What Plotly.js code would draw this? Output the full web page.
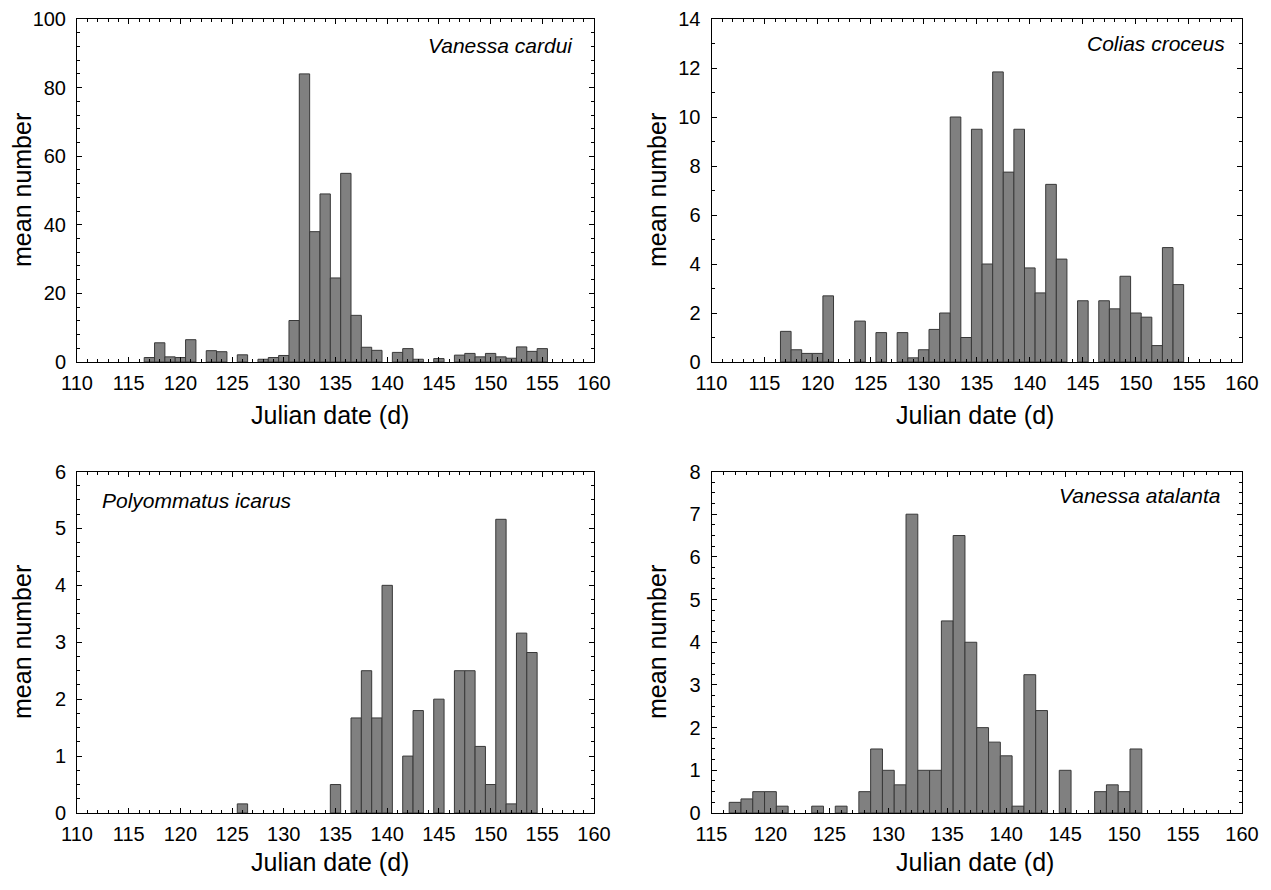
<!DOCTYPE html>
<html>
<head>
<meta charset="utf-8">
<script src="https://cdn.plot.ly/plotly-3.0.1.min.js"></script>
<style>html,body{margin:0;padding:0;background:#fff;}#chart{width:1271px;height:890px;}</style>
</head>
<body>
<div id="chart"></div>
<script>
// Vanessa cardui
const days1 = [117,118,119,120,121,123,124,126,128,129,130,131,132,133,134,135,136,137,138,139,141,142,143,145,147,148,149,150,151,152,153,154,155];
const vals1 = [1.3,5.6,1.5,1.3,6.5,3.3,3.0,2.1,0.8,1.3,1.9,12.1,84,38,49,24.5,55,13.6,4.3,3.4,2.8,3.9,0.8,1.0,2.0,2.5,1.5,2.5,1.5,1.1,4.4,3.1,3.9];
// Colias croceus
const days2 = [117,118,119,120,121,124,126,128,129,130,131,132,133,134,135,136,137,138,139,140,141,142,143,145,147,148,149,150,151,152,153,154];
const vals2 = [1.25,0.5,0.35,0.35,2.7,1.67,1.2,1.2,0.17,0.5,1.33,2.0,10.0,1.0,9.5,4.0,11.84,7.75,9.5,3.84,2.82,7.25,4.2,2.5,2.5,2.17,3.5,2.0,1.83,0.67,4.67,3.16];
// Polyommatus icarus
const days3 = [126,135,137,138,139,140,142,143,145,147,148,149,150,151,152,153,154];
const vals3 = [0.16,0.5,1.67,2.5,1.67,4.0,1.0,1.8,2.0,2.5,2.5,1.17,0.5,5.16,0.16,3.16,2.82];
// Vanessa atalanta
const days4 = [117,118,119,120,121,124,126,128,129,130,131,132,133,134,135,136,137,138,139,140,141,142,143,145,148,149,150,151];
const vals4 = [0.25,0.33,0.5,0.5,0.16,0.16,0.16,0.5,1.5,1.0,0.66,7.0,1.0,1.0,4.5,6.5,4.0,2.0,1.66,1.34,0.16,3.24,2.4,1.0,0.5,0.66,0.5,1.5];

const species = ["Vanessa cardui","Colias croceus","Polyommatus icarus","Vanessa atalanta"];
const xRanges = [[110,160],[110,160],[110,160],[115,160]];
const yRanges = [[0,100],[0,14],[0,6],[0,8]];
const yMajor = [20,2,1,1];
const yMinor = [4,1,0.25,0.25];
const xTitle = "Julian date (d)";
const yTitle = "mean number";

const W = 1271, H = 890;
const px = v => v / W, py = v => 1 - v / H;
const xDom = [[px(77), px(594)], [px(711.5), px(1242)], [px(77), px(594)], [px(711.5), px(1242)]];
const yDom = [[py(362), py(19)], [py(362), py(19)], [py(813), py(471.5)], [py(813), py(471.5)]];

const FONT = "Liberation Sans, Arial, sans-serif";
const allDays = [days1, days2, days3, days4];
const allVals = [vals1, vals2, vals3, vals4];

const traces = allDays.map((d, i) => ({
  type: 'bar', x: d, y: allVals[i], width: 1,
  xaxis: 'x' + (i ? i + 1 : ''), yaxis: 'y' + (i ? i + 1 : ''),
  marker: {color: '#808080', line: {color: '#383838', width: 1}},
  showlegend: false, hoverinfo: 'x+y'
}));

const layout = {
  width: W, height: H,
  margin: {l: 0, r: 0, t: 0, b: 0},
  paper_bgcolor: '#fff', plot_bgcolor: '#fff',
  font: {family: FONT, color: '#000', size: 20},
  bargap: 0,
  annotations: []
};

for (let i = 0; i < 4; i++) {
  const s = i ? i + 1 : '';
  layout['xaxis' + s] = {
    domain: xDom[i], range: xRanges[i], anchor: 'y' + s,
    tick0: 110, dtick: 5, ticks: 'inside', ticklen: 5, tickcolor: '#000', tickwidth: 1,
    minor: {dtick: 1, ticks: 'inside', ticklen: 3, tickcolor: '#000', tickwidth: 1},
    showline: true, linecolor: '#000', linewidth: 1, mirror: 'ticks',
    showgrid: false, zeroline: false, fixedrange: true,
    tickfont: {family: FONT, size: 20, color: '#000'}, ticklabelstandoff: 3
  };
  layout['yaxis' + s] = {
    domain: yDom[i], range: yRanges[i], anchor: 'x' + s,
    tick0: 0, dtick: yMajor[i], ticks: 'inside', ticklen: 5, tickcolor: '#000', tickwidth: 1,
    minor: {dtick: yMinor[i], ticks: 'inside', ticklen: 3, tickcolor: '#000', tickwidth: 1},
    showline: true, linecolor: '#000', linewidth: 1, mirror: 'ticks',
    showgrid: false, zeroline: false, fixedrange: true,
    tickfont: {family: FONT, size: 20, color: '#000'}, ticklabelstandoff: 6
  };
}

// Species labels
const spPos = [
  {x: px(575), y: py(45), xanchor: 'right'},
  {x: px(1227), y: py(44), xanchor: 'right'},
  {x: px(100), y: py(500), xanchor: 'left'},
  {x: px(1223), y: py(496), xanchor: 'right'}
];
species.forEach((sp, i) => {
  layout.annotations.push({
    xref: 'paper', yref: 'paper', x: spPos[i].x, y: spPos[i].y,
    xanchor: spPos[i].xanchor, yanchor: 'middle', showarrow: false,
    text: '<i>' + sp + '</i>', font: {family: FONT, size: 21, color: '#000'}
  });
});

// Axis titles
const xtPos = [[330, 415], [975, 415], [330, 862], [975, 862]];
const ytPos = [[22, 190], [657, 190], [22, 642], [657, 642]];
for (let i = 0; i < 4; i++) {
  layout.annotations.push({
    xref: 'paper', yref: 'paper', x: px(xtPos[i][0]), y: py(xtPos[i][1]),
    xanchor: 'center', yanchor: 'middle', showarrow: false,
    text: xTitle, font: {family: FONT, size: 25, color: '#000'}
  });
  layout.annotations.push({
    xref: 'paper', yref: 'paper', x: px(ytPos[i][0]), y: py(ytPos[i][1]),
    xanchor: 'center', yanchor: 'middle', showarrow: false, textangle: -90,
    text: yTitle, font: {family: FONT, size: 25, color: '#000'}
  });
}

Plotly.newPlot('chart', traces, layout, {displayModeBar: false, staticPlot: true});
</script>
</body>
</html>
